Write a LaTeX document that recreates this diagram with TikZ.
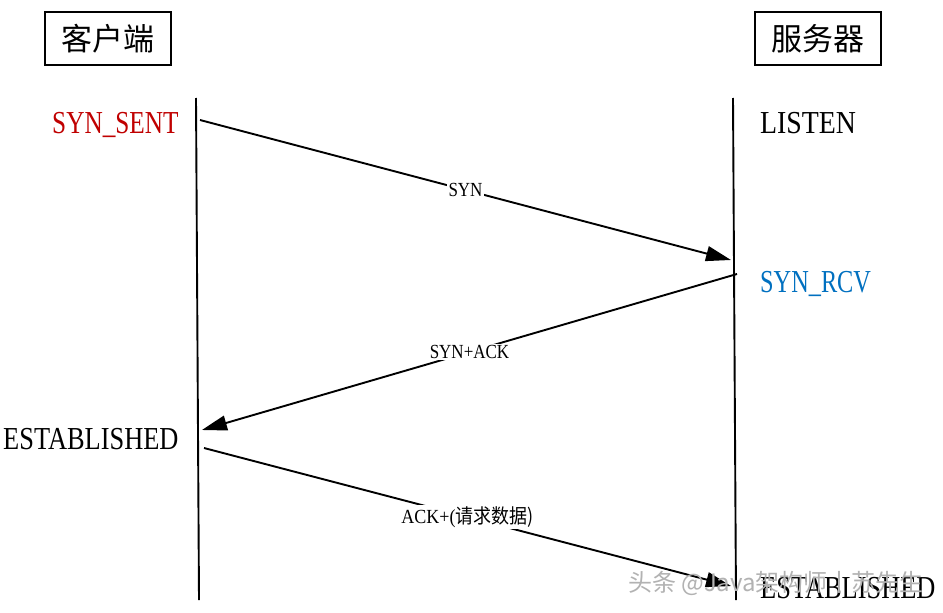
\documentclass[tikz,border=0pt]{standalone}
\usepackage{graphicx}
\usepackage{fontspec}
\setmainfont{Liberation Serif}
\newfontfamily\cjk{Noto Sans CJK SC}
\usetikzlibrary{arrows.meta}
\definecolor{stred}{HTML}{C00000}
\definecolor{stblue}{HTML}{0070C0}
\newcommand{\squeeze}[2]{\scalebox{#1}[1]{#2}}
\tikzset{
  hostbox/.style={draw, line width=1.6pt, minimum width=126pt, minimum height=53pt,
    inner sep=0pt, font=\cjk\fontsize{31}{34}\selectfont},
  lifeline/.style={line width=1.9pt},
  msg/.style={line width=1.9pt, -{Triangle[length=25pt,width=15pt]}},
  state/.style={anchor=base west, inner sep=0pt, font=\fontsize{32}{36}\selectfont},
  msglabel/.style={fill=white, inner sep=1.5pt, font=\fontsize{20}{22}\selectfont},
  wmark/.style={inner sep=0pt, text=gray!60, font=\cjk\fontsize{24}{26}\selectfont}
}
\begin{document}
\begin{tikzpicture}[x=1pt,y=-1pt]
\useasboundingbox (0,0) rectangle (943,613);
\fill[white] (0,0) rectangle (943,613);
% host boxes
\node[hostbox] (cl) at (108,38.5) {客户端};
\node[hostbox] (sv) at (818,38.5) {服务器};
% lifelines
\coordinate (ltop) at (196,98);
\coordinate (lbot) at (199,600);
\coordinate (rtop) at (733,98);
\coordinate (rbot) at (736,600);
\draw[lifeline] (ltop) -- (lbot);
\draw[lifeline] (rtop) -- (rbot);
% states
\node[state, text=stred] (s1) at (52,133) {\squeeze{0.79}{SYN\_SENT}};
\node[state] (s2) at (760,133) {\squeeze{0.87}{LISTEN}};
\node[state, text=stblue] (s3) at (760,292) {\squeeze{0.76}{SYN\_RCV}};
\node[state] (s4) at (3,449) {\squeeze{0.825}{ESTABLISHED}};
\node[state] (s5) at (760,598) {\squeeze{0.825}{ESTABLISHED}};
% messages
\coordinate (m1a) at (200,120);
\coordinate (m1b) at (731,260);
\coordinate (m2a) at (737,274);
\coordinate (m2b) at (202,430);
\coordinate (m3a) at (204,448);
\coordinate (m3b) at (731,586);
\draw[msg] (m1a) -- node[msglabel] (l1) {\squeeze{0.85}{SYN}} (m1b);
\draw[msg] (m2a) -- node[msglabel] (l2) {\squeeze{0.85}{SYN+ACK}} (m2b);
\draw[msg] (m3a) -- node[msglabel] (l3) {\squeeze{0.9}{ACK+(\cjk 请求数据)}} (m3b);
% watermark
\node[wmark] (wm) at (776,583) {头条 @Java架构师丨苏先生};
\end{tikzpicture}
\end{document}
